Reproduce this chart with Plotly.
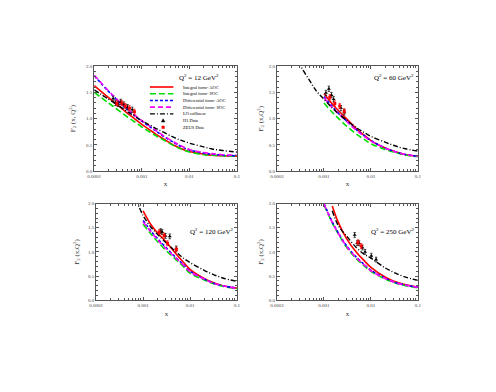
import plotly.graph_objects as go

# common x grid for the model curves
x_grid = [1e-4, 2e-4, 3e-4, 5e-4, 7e-4, 1e-3, 1.5e-3, 2e-3, 3e-3, 5e-3, 7e-3,
          1e-2, 2e-2, 3e-2, 5e-2, 1e-1]

# ---- Q2 = 12 GeV^2
q12_int_aoc = [1.63, 1.40, 1.27, 1.10, 1.00, 0.89, 0.78, 0.70, 0.60, 0.48, 0.42, 0.37, 0.32, 0.30, 0.29, 0.28]
q12_int_soc = [1.50, 1.30, 1.18, 1.03, 0.94, 0.84, 0.74, 0.67, 0.58, 0.47, 0.41, 0.36, 0.31, 0.30, 0.29, 0.28]
q12_dif_aoc = [1.82, 1.52, 1.36, 1.17, 1.06, 0.95, 0.84, 0.76, 0.65, 0.53, 0.46, 0.40, 0.34, 0.32, 0.30, 0.29]
q12_dif_soc = [1.83, 1.53, 1.37, 1.18, 1.07, 0.96, 0.85, 0.77, 0.66, 0.54, 0.47, 0.41, 0.35, 0.33, 0.31, 0.30]
q12_lo = [1.55, 1.37, 1.27, 1.13, 1.05, 0.96, 0.87, 0.81, 0.73, 0.63, 0.58, 0.53, 0.46, 0.42, 0.39, 0.36]
q12_h1_x = [2.5e-4, 2.8e-4, 3.2e-4, 3.6e-4, 4.2e-4, 5.0e-4, 6.3e-4]
q12_h1_y = [1.38, 1.30, 1.28, 1.32, 1.27, 1.22, 1.17]
q12_zeus_x = [3.0e-4, 3.8e-4, 4.5e-4, 5.5e-4, 7.0e-4]
q12_zeus_y = [1.29, 1.30, 1.24, 1.20, 1.13]

# ---- Q2 = 60 GeV^2
q60_int_aoc = [None, None, None, None, None, 1.48, 1.28, 1.16, 1.00, 0.80, 0.69, 0.58, 0.44, 0.38, 0.32, 0.28]
q60_int_soc = [None, None, None, None, None, 1.30, 1.12, 1.01, 0.86, 0.70, 0.61, 0.52, 0.41, 0.36, 0.31, 0.27]
q60_dif_aoc = [None, None, None, None, None, 1.42, 1.23, 1.11, 0.96, 0.78, 0.68, 0.58, 0.44, 0.38, 0.32, 0.28]
q60_dif_soc = [None, None, None, None, None, 1.40, 1.21, 1.10, 0.95, 0.77, 0.67, 0.57, 0.44, 0.38, 0.32, 0.28]
q60_lo = [None, 2.45, 2.05, 1.72, 1.52, 1.37, 1.20, 1.10, 0.97, 0.82, 0.74, 0.66, 0.55, 0.49, 0.43, 0.38]
q60_h1_x = [1.1e-3, 1.27e-3, 1.44e-3, 1.6e-3, 2.3e-3, 2.7e-3]
q60_h1_y = [1.49, 1.57, 1.45, 1.37, 1.20, 1.12]
q60_zeus_x = [1.33e-3, 1.7e-3, 2.16e-3, 2.7e-3]
q60_zeus_y = [1.41, 1.29, 1.24, 1.14]

# ---- Q2 = 120 GeV^2
q120_int_aoc = [None, None, None, None, None, 1.85, 1.55, 1.40, 1.22, 0.96, 0.80, 0.64, 0.45, 0.37, 0.30, 0.25]
q120_int_soc = [None, None, None, None, None, 1.57, 1.36, 1.22, 1.04, 0.84, 0.71, 0.56, 0.42, 0.35, 0.29, 0.24]
q120_dif_aoc = [None, None, None, None, None, 1.65, 1.42, 1.28, 1.10, 0.88, 0.75, 0.60, 0.44, 0.36, 0.30, 0.25]
q120_dif_soc = [None, None, None, None, None, 1.62, 1.40, 1.26, 1.08, 0.87, 0.74, 0.59, 0.44, 0.36, 0.30, 0.25]
q120_lo = [None, None, None, None, 2.10, 1.75, 1.50, 1.37, 1.20, 1.00, 0.88, 0.78, 0.62, 0.54, 0.46, 0.39]
q120_h1_x = [2.36e-3, 2.55e-3, 3.0e-3, 3.7e-3, 5.1e-3]
q120_h1_y = [1.43, 1.41, 1.33, 1.32, 1.07]
q120_zeus_x = [2.2e-3, 2.8e-3, 3.3e-3, 5.1e-3]
q120_zeus_y = [1.41, 1.34, 1.18, 1.05]

# ---- Q2 = 250 GeV^2
q250_int_aoc = [None, None, None, None, None, None, 1.95, 1.62, 1.28, 0.98, 0.83, 0.68, 0.48, 0.40, 0.33, 0.27]
q250_int_soc = [None, None, None, None, None, 1.97, 1.60, 1.38, 1.10, 0.85, 0.72, 0.60, 0.44, 0.37, 0.31, 0.26]
q250_dif_aoc = [None, None, None, None, None, 2.00, 1.62, 1.40, 1.13, 0.88, 0.75, 0.62, 0.46, 0.38, 0.32, 0.27]
q250_dif_soc = [None, None, None, None, None, 1.99, 1.61, 1.39, 1.12, 0.87, 0.74, 0.61, 0.45, 0.38, 0.32, 0.27]
q250_lo = [None, None, None, None, None, None, 1.85, 1.55, 1.33, 1.08, 0.96, 0.87, 0.67, 0.58, 0.49, 0.41]
q250_h1_x = [4.5e-3, 5.1e-3, 5.6e-3, 6.6e-3, 7.5e-3, 1.02e-2, 1.29e-2]
q250_h1_y = [1.35, 1.18, 1.18, 1.09, 1.00, 0.92, 0.84]
q250_zeus_x = [5.3e-3, 6.2e-3]
q250_zeus_y = [1.20, 1.12]

panels = [
    ("12", q12_int_aoc, q12_int_soc, q12_dif_aoc, q12_dif_soc, q12_lo, q12_h1_x, q12_h1_y, q12_zeus_x, q12_zeus_y),
    ("60", q60_int_aoc, q60_int_soc, q60_dif_aoc, q60_dif_soc, q60_lo, q60_h1_x, q60_h1_y, q60_zeus_x, q60_zeus_y),
    ("120", q120_int_aoc, q120_int_soc, q120_dif_aoc, q120_dif_soc, q120_lo, q120_h1_x, q120_h1_y, q120_zeus_x, q120_zeus_y),
    ("250", q250_int_aoc, q250_int_soc, q250_dif_aoc, q250_dif_soc, q250_lo, q250_h1_x, q250_h1_y, q250_zeus_x, q250_zeus_y),
]

W, H = 496, 392
OFF = 8  # the page body margin shifts the figure by this much
# plot-area boxes in screen pixels: (left, right, top, bottom)
boxes = [(89, 235, 65, 171), (276, 420, 65, 171), (91, 235, 204, 302), (276, 420, 204, 302)]
# Q2 label position (right edge x, top y) in screen pixels
q2_pos = [(219, 70), (418, 70), (233, 226), (418, 226)]
ytitle_standoff = [9, 4, 7, 4]


def px(v):
    return (v - OFF) / W


def py(v):
    return 1 - (v - OFF) / H


FONT = "Liberation Serif, Times New Roman, serif"
line_styles = [
    ("Integral form- AOC", "#ff0000", "solid", 1.6),
    ("Integral form- SOC", "#00e000", "6px,3px", 1.6),
    ("Differential form- AOC", "#0000ff", "3px,2px", 1.6),
    ("Differential form- SOC", "#ff00ff", "5px,3px", 1.6),
    ("LO collinear", "#000000", "5px,2px,1px,2px", 1.4),
]

fig = go.Figure()
for i, p in enumerate(panels):
    q2 = p[0]
    curves = p[1:6]
    xa = "x" if i == 0 else "x%d" % (i + 1)
    ya = "y" if i == 0 else "y%d" % (i + 1)
    for (name, col, dash, w), ys in zip(line_styles, curves):
        fig.add_trace(go.Scatter(
            x=x_grid, y=ys, mode="lines", name=name, line=dict(color=col, dash=dash, width=w, shape="spline"),
            showlegend=False, xaxis=xa, yaxis=ya, connectgaps=False))
    fig.add_trace(go.Scatter(
        x=p[6], y=p[7], mode="markers", name="H1 Data",
        marker=dict(symbol="triangle-up", size=3.5, color="black"),
        error_y=dict(type="constant", value=0.05, color="black", thickness=0.7, width=1.2),
        showlegend=False, xaxis=xa, yaxis=ya))
    fig.add_trace(go.Scatter(
        x=p[8], y=p[9], mode="markers", name="ZEUS Data",
        marker=dict(symbol="square", size=3, color="#ff0000"),
        error_y=dict(type="constant", value=0.05, color="#ff0000", thickness=0.7, width=1.2),
        showlegend=False, xaxis=xa, yaxis=ya))

    l, r, t, b = boxes[i]
    xkey = "xaxis" if i == 0 else "xaxis%d" % (i + 1)
    ykey = "yaxis" if i == 0 else "yaxis%d" % (i + 1)
    fig.update_layout({
        xkey: dict(
            type="log", range=[-4, -1], domain=[px(l), px(r)], anchor=ya,
            tickvals=[1e-4, 1e-3, 1e-2, 1e-1], ticktext=["0.0001", "0.001", "0.01", "0.1"],
            ticks="inside", ticklen=3, tickcolor="#555", mirror="allticks",
            showline=True, linecolor="#555", linewidth=1, showgrid=False, zeroline=False,
            minor=dict(ticks="inside", ticklen=2, tickcolor="#555", dtick="D1"),
            tickfont=dict(size=5, family=FONT, color="#444"),
            title=dict(text="x", font=dict(size=7, family=FONT, color="#333"), standoff=3),
        ),
        ykey: dict(
            range=[0, 2], domain=[py(b), py(t)], anchor=xa,
            tickvals=[0, 0.5, 1.0, 1.5, 2.0], tickformat=".1f",
            ticks="inside", ticklen=3, tickcolor="#555", mirror="allticks",
            showline=True, linecolor="#555", linewidth=1, showgrid=False, zeroline=False,
            minor=dict(ticks="inside", ticklen=2, tickcolor="#555", dtick=0.1),
            tickfont=dict(size=5, family=FONT, color="#444"),
            title=dict(text="F<sub>2</sub> (x, Q<sup>2</sup>)" if i == 0 else "F<sub>2</sub> (x,Q<sup>2</sup>)",
                       font=dict(size=7, family=FONT, color="#333"), standoff=ytitle_standoff[i]),
        ),
    })
    qx, qy = q2_pos[i]
    fig.add_annotation(
        x=px(qx), y=py(qy), xref="paper", yref="paper", xanchor="right", yanchor="top",
        text="Q<sup>2</sup> = %s GeV<sup>2</sup>" % q2, showarrow=False,
        font=dict(size=7, family=FONT, color="black"))

# hand-made compact legend inside the first panel
leg_names = [s[0] for s in line_styles] + ["H1 Data", "ZEUS Data"]
leg_x0, leg_x1, leg_tx, leg_y0, leg_dy = 146, 170, 178, 86, 6.8
for k, name in enumerate(leg_names):
    cy = leg_y0 + k * leg_dy
    if k < len(line_styles):
        _, col, dash, w = line_styles[k]
        fig.add_shape(type="line", xref="paper", yref="paper",
                      x0=px(leg_x0), x1=px(leg_x1), y0=py(cy), y1=py(cy),
                      line=dict(color=col, dash=dash, width=w))
    else:
        cx = 159.5
        if name == "H1 Data":
            path = "M %f %f L %f %f L %f %f Z" % (
                px(cx - 1.8), py(cy + 1.4), px(cx + 1.8), py(cy + 1.4), px(cx), py(cy - 1.8))
            fig.add_shape(type="path", xref="paper", yref="paper", path=path,
                          fillcolor="black", line=dict(color="black", width=0.5))
        else:
            fig.add_shape(type="rect", xref="paper", yref="paper",
                          x0=px(cx - 1.3), x1=px(cx + 1.3), y0=py(cy + 1.3), y1=py(cy - 1.3),
                          fillcolor="#ff0000", line=dict(color="#ff0000", width=0.5))
    fig.add_annotation(x=px(leg_tx), y=py(cy), xref="paper", yref="paper", xanchor="left", yanchor="middle",
                       text=name, showarrow=False, font=dict(size=4.5, family=FONT, color="black"))

fig.update_layout(
    width=W, height=H, margin=dict(l=0, r=0, t=0, b=0),
    paper_bgcolor="white", plot_bgcolor="white",
    font=dict(family=FONT, color="black"),
    showlegend=False,
)

fig.write_html("out.html")
